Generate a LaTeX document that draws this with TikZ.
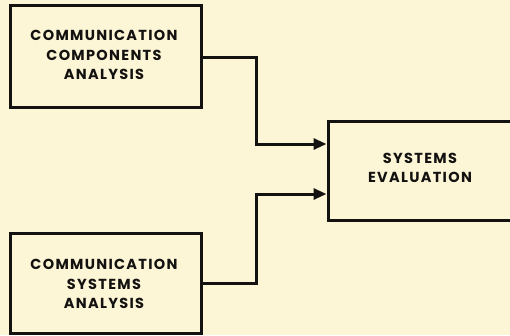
\documentclass[tikz,border=0pt]{standalone}
\usepackage{fontspec}
\setmainfont{Poppins}[LetterSpace=9]
\usetikzlibrary{arrows.meta}
\definecolor{paper}{HTML}{FCF5D6}
\definecolor{ink}{HTML}{141210}
\tikzset{
  lbl/.style={font=\fontsize{14.5}{19.5}\selectfont\bfseries, text=ink, align=center},
  blk/.style={draw=ink, line width=3pt, rectangle, inner sep=0pt},
  link/.style={draw=ink, line width=3pt,
    -{Triangle[length=13pt,width=11pt]}},
}
\begin{document}
\begin{tikzpicture}[x=1pt,y=-1pt]
  \useasboundingbox (0,0) rectangle (510,335);
  \clip (0,0) rectangle (510,335);
  \fill[paper] (0,0) rectangle (510,335);

  \node[blk, minimum width=191pt, minimum height=102pt] (cca) at (105.5,56) {};
  \node[lbl] (ccat) at (104,55) {COMMUNICATION\\COMPONENTS\\ANALYSIS};
  \node[blk, minimum width=191pt, minimum height=100pt] (csa) at (105.5,283) {};
  \node[lbl] (csat) at (104,284) {COMMUNICATION\\SYSTEMS\\ANALYSIS};
  \node[blk, minimum width=186pt, minimum height=99pt] (sev) at (421,170.5) {};
  \node[lbl] (sevt) at (420,168) {SYSTEMS\\EVALUATION};

  \coordinate (j1) at (256,57);
  \coordinate (j2) at (256,283);
  \draw[link] (cca.east |- j1) -- (j1) |- (sev.west |- 0,144);
  \draw[link] (csa.east |- j2) -- (j2) |- (sev.west |- 0,194);
\end{tikzpicture}
\end{document}
